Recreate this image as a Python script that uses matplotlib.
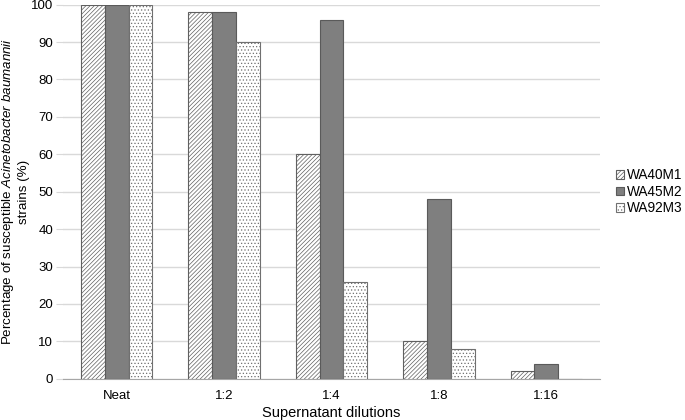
import numpy as np
import matplotlib
matplotlib.use("Agg")
import matplotlib.pyplot as plt

plt.rcParams['font.family'] = ['Liberation Sans', 'DejaVu Sans']
plt.rcParams['mathtext.fontset'] = 'custom'
plt.rcParams['mathtext.rm'] = 'Liberation Sans'
plt.rcParams['mathtext.it'] = 'Liberation Sans:italic'
plt.rcParams['hatch.linewidth'] = 0.5

dilutions = ["Neat", "1:2", "1:4", "1:8", "1:16"]
wa40m1 = [100, 98, 60, 10, 2]
wa45m2 = [100, 98, 96, 48, 4]
wa92m3 = [100, 90, 26, 8, 0]

x = np.arange(len(dilutions))
w = 0.222

fig = plt.figure(figsize=(6.85, 4.2), dpi=100)
ax = fig.add_axes([0.092, 0.098, 0.784, 0.891])

ax.bar(x - w, wa40m1, w, facecolor='white', edgecolor='#606060', hatch='////////', linewidth=0.8, label='WA40M1', zorder=3)
ax.bar(x, wa45m2, w, facecolor='#7f7f7f', edgecolor='#5a5a5a', linewidth=0.8, label='WA45M2', zorder=3)
ax.bar(x + w, wa92m3, w, facecolor='white', edgecolor='#707070', hatch='.....', linewidth=0.8, label='WA92M3', zorder=3)

ax.set_xlim(-0.5, len(dilutions) - 0.5)
ax.set_ylim(0, 100)
ax.set_yticks(range(0, 101, 10))
ax.set_xticks(x)
ax.set_xticklabels(dilutions)
ax.tick_params(axis='x', length=0, labelsize=9.5, pad=8)
ax.tick_params(axis='y', length=5, color='#d9d9d9', labelsize=9.5, pad=2)
ax.yaxis.grid(True, color='#d9d9d9', linewidth=1, zorder=0)
for s in ['top', 'right', 'left']:
    ax.spines[s].set_visible(False)
ax.spines['bottom'].set_color('#a6a6a6')

ax.set_xlabel('Supernatant dilutions', fontsize=10.5, labelpad=3)
ax.set_ylabel('Percentage of susceptible $\\it{Acinetobacter\\ baumannii}$\nstrains (%)', fontsize=9.6, labelpad=1)

ax.legend(loc='center left', bbox_to_anchor=(1.015, 0.5), frameon=False, fontsize=9.8,
          handlelength=0.6, handleheight=0.6, handletextpad=0.2, labelspacing=0.2,
          borderaxespad=0.2)

plt.savefig("out.png", dpi=100)
